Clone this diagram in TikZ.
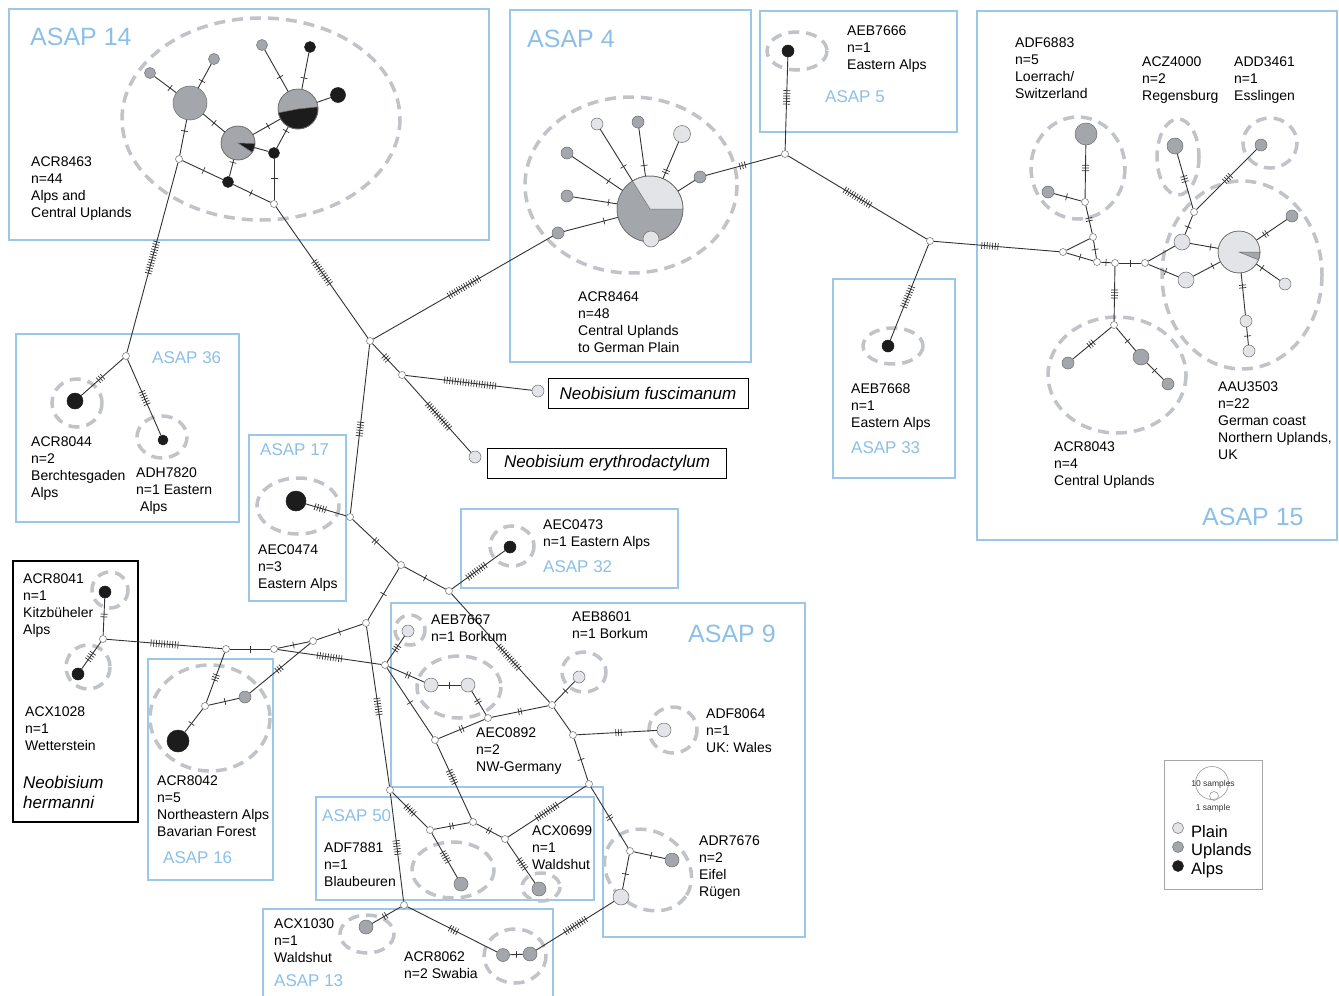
\documentclass[tikz,border=0pt]{standalone}
\usepackage{fontspec}
\setmainfont{Liberation Sans}
\usetikzlibrary{calc}
\definecolor{boxc}{RGB}{157,199,233}
\definecolor{asapc}{RGB}{140,192,232}
\definecolor{dashc}{RGB}{192,195,200}
\definecolor{plainc}{RGB}{226,228,231}
\definecolor{upc}{RGB}{163,167,172}
\definecolor{alpc}{RGB}{28,28,28}
\definecolor{edgec}{RGB}{50,50,50}
\tikzset{
  box/.style={draw=boxc, line width=1.8pt},
  grp/.style={draw=dashc, line width=3.5pt, dash pattern=on 11pt off 7pt},
  edge/.style={draw=edgec, line width=0.9pt},
  tick/.style={draw=edgec, line width=0.7pt},
  hapline/.style={draw=gray!85!black, line width=0.5pt},
  hap/.style={circle, inner sep=0pt, hapline},
  pl/.style={hap, fill=plainc, minimum size=#1},
  up/.style={hap, fill=upc, minimum size=#1},
  al/.style={hap, fill=alpc, draw=alpc, minimum size=#1},
  med/.style={circle, inner sep=0pt, minimum size=7pt, draw=gray, fill=white, line width=0.6pt},
  lbl/.style={font=\fontsize{14}{17}\selectfont, align=left, anchor=north west, inner sep=0pt},
  asapL/.style={font=\fontsize{25}{30}\selectfont, text=asapc, anchor=west, inner sep=0pt},
  asapS/.style={font=\fontsize{17}{20}\selectfont, text=asapc, anchor=west, inner sep=0pt},
  spec/.style={draw=black, line width=1pt, font=\itshape\fontsize{17}{20}\selectfont, inner sep=0pt},
}
\newcommand\edgeT[4][0.5]{%
  \draw[edge] (#2) -- (#3);
  \ifnum#4>0
    \path ($(#2)!#1!(#3)$) coordinate (tkm);
    \foreach \k in {1,...,#4}{%
      \pgfmathsetmacro\tkoff{(\k-(#4+1)/2)*2.7}%
      \path ($(tkm)!\tkoff pt!(#3)$) coordinate (tkk);
      \draw[tick] ($(tkk)!3.5pt!90:(#3)$) -- ($(tkk)!3.5pt!-90:(#3)$);
    }%
  \fi
}
\newcommand\pieW[6]{%
  \filldraw[fill=#6, hapline] (#1,#2) -- plot[domain=#4:#5, samples=40] ({#1+#3*cos(\x)},{#2+#3*sin(\x)}) -- cycle;
  \draw[hapline] (#1,#2) circle[radius=#3];
}
\begin{document}
\begin{tikzpicture}[x=1pt, y=-1pt]
\useasboundingbox (0,0) rectangle (1339,996);
\fill[white] (0,0) rectangle (1339,996);

% ---------- group boxes ----------
\draw[box] (9,9) rectangle (489,240);
\draw[box] (510,10) rectangle (751,362);
\draw[box] (760,11) rectangle (957,132);
\draw[box] (977,11) rectangle (1337,540);
\draw[box] (833,279) rectangle (955,478);
\draw[box] (16,334) rectangle (239,522);
\draw[box] (249,435) rectangle (346,601);
\draw[box] (461,509) rectangle (678,588);
\draw[box] (148,659) rectangle (273,880);
\draw[box] (391,603) -- (805,603) -- (805,937) -- (603,937) -- (603,787) -- (391,787) -- cycle;
\draw[box] (316,797) rectangle (594,900);
\draw[box] (263,909) rectangle (553,1004);
\draw[black, line width=1.8pt] (13,561) rectangle (138,822);

% ---------- dashed group ellipses ----------
\draw[grp] (261,119) ellipse [x radius=139, y radius=101];
\draw[grp] (631,185) ellipse [x radius=106, y radius=88];
\draw[grp] (797,51) ellipse [x radius=30, y radius=19];
\draw[grp] (893,346) ellipse [x radius=30, y radius=18];
\draw[grp] (1078,168) ellipse [x radius=47, y radius=51];
\draw[grp] (1178,157) ellipse [x radius=21, y radius=38];
\draw[grp] (1270,143) ellipse [x radius=27, y radius=25];
\draw[grp] (1242,275) ellipse [x radius=80, y radius=94];
\draw[grp] (1117,375) ellipse [x radius=69, y radius=58];
\draw[grp] (77,403) ellipse [x radius=25, y radius=24];
\draw[grp] (162,437) ellipse [x radius=25, y radius=21];
\draw[grp] (298,506) ellipse [x radius=41, y radius=28];
\draw[grp] (512,546) ellipse [x radius=22, y radius=20];
\draw[grp] (110,590) ellipse [x radius=18, y radius=18];
\draw[grp] (88,667) ellipse [x radius=22, y radius=22];
\draw[grp] (210,718) ellipse [x radius=60, y radius=53];
\draw[grp] (410,630) ellipse [x radius=15, y radius=15];
\draw[grp] (459,687) ellipse [x radius=42, y radius=31];
\draw[grp] (584,672) ellipse [x radius=22, y radius=20];
\draw[grp] (673,730) ellipse [x radius=24, y radius=23];
\draw[grp, rotate around={-35:(648,870)}] (648,870) ellipse [x radius=46, y radius=38];
\draw[grp] (453,870) ellipse [x radius=41, y radius=28];
\draw[grp] (541,887) ellipse [x radius=19, y radius=14];
\draw[grp] (367,934) ellipse [x radius=27, y radius=19];
\draw[grp] (515,956) ellipse [x radius=31, y radius=27];

% ---------- ASAP 14 ----------
\node[up=11] (h14a) at (150,73) {};
\node[up=11] (h14b) at (214,59) {};
\node[up=34] (h14c) at (190,103) {};
\node[up=11] (h14d) at (262,45) {};
\node[al=11] (h14e) at (310,47) {};
\node[up=40] (h14p) at (298,109) {};
\pieW{298}{109}{20}{-6}{169}{alpc}
\node[up=34] (h14q) at (238,143) {};
\pieW{238}{143}{17}{2}{33}{alpc}
\node[al=11] (h14f) at (274,153) {};
\node[al=11] (h14g) at (228,182) {};
\node[al=15] (h14h) at (338,95) {};
\node[med] (m14a) at (179,159) {};
\node[med] (m14b) at (274,204) {};

% ---------- ASAP 4 ----------
\node[up=66] (hp4) at (650,209) {};
\pieW{650}{209}{33}{-122}{0}{plainc}
\node[pl=12] (h4a) at (597,124) {};
\node[up=12] (h4b) at (638,122) {};
\node[pl=17] (h4c) at (682,134) {};
\node[up=12] (h4d) at (567,153) {};
\node[up=12] (h4e) at (567,196) {};
\node[up=12] (h4f) at (700,177) {};
\node[up=12] (h4g) at (558,233) {};
\node[pl=16] (h4h) at (651,239) {};

% ---------- ASAP 5 / 33 ----------
\node[al=12] (h5) at (788,51) {};
\node[med] (m5) at (785,154) {};
\node[med] (m33) at (930,241) {};
\node[al=12] (h33) at (888,346) {};

% ---------- ASAP 15 ----------
\node[med] (m15a) at (1063,252) {};
\node[med] (m15b) at (1093,237) {};
\node[med] (m15c) at (1097,262) {};
\node[med] (m15d) at (1085,202) {};
\node[med] (m15e) at (1115,263) {};
\node[med] (m15f) at (1145,263) {};
\node[med] (m15g) at (1194,212) {};
\node[med] (m15h) at (1114,325) {};
\node[up=22] (h15a) at (1086,134) {};
\node[up=12] (h15b) at (1048,192) {};
\node[pl=16] (h15c) at (1182,242) {};
\node[pl=16] (h15d) at (1186,280) {};
\node[up=16] (h15e) at (1175,146) {};
\node[up=12] (h15f) at (1261,145) {};
\node[pl=42] (hp15) at (1239,252) {};
\pieW{1239}{252}{21}{0}{22}{upc}
\node[up=12] (h15g) at (1292,216) {};
\node[pl=12] (h15h) at (1285,284) {};
\node[pl=12] (h15i) at (1246,321) {};
\node[pl=12] (h15j) at (1249,351) {};
\node[up=12] (h15k) at (1068,363) {};
\node[up=16] (h15l) at (1141,357) {};
\node[up=12] (h15m) at (1168,384) {};

% ---------- central and left ----------
\node[med] (mc) at (370,341) {};
\node[med] (mf) at (402,375) {};
\node[med] (mg) at (350,517) {};
\node[med] (mh) at (401,565) {};
\node[med] (mi) at (449,591) {};
\node[med] (mj) at (366,623) {};
\node[med] (mk) at (385,665) {};
\node[med] (ml) at (313,641) {};
\node[med] (mm) at (274,649) {};
\node[med] (mn) at (226,649) {};
\node[med] (mo) at (205,706) {};
\node[med] (mp) at (103,639) {};
\node[med] (m36) at (126,356) {};
\node[al=16] (hA8044) at (75,401) {};
\node[al=10] (hA7820) at (163,440) {};
\node[al=20] (hA0474) at (296,501) {};
\node[al=12] (hA0473) at (510,547) {};
\node[pl=12] (hFus) at (538,391) {};
\node[pl=12] (hEry) at (475,457) {};
\node[al=12] (hK) at (105,592) {};
\node[al=12] (hW) at (78,674) {};
\node[up=12] (h16a) at (245,697) {};
\node[al=22] (h16b) at (178,741) {};

% ---------- ASAP 9 / 50 / 13 ----------
\node[med] (m9a) at (488,718) {};
\node[med] (m9b) at (552,705) {};
\node[med] (m9c) at (573,735) {};
\node[med] (m9d) at (435,740) {};
\node[med] (m9e) at (589,784) {};
\node[med] (m9f) at (630,851) {};
\node[med] (m50a) at (390,790) {};
\node[med] (m50b) at (430,830) {};
\node[med] (m50c) at (473,822) {};
\node[med] (m50d) at (505,839) {};
\node[med] (m13) at (404,905) {};
\node[pl=12] (h9a) at (408,631) {};
\node[pl=14] (h9b) at (431,685) {};
\node[pl=14] (h9c) at (468,685) {};
\node[pl=12] (h9d) at (579,677) {};
\node[pl=14] (h9e) at (664,730) {};
\node[up=14] (h9f) at (672,860) {};
\node[pl=16] (h9g) at (621,897) {};
\node[up=14] (h50a) at (461,884) {};
\node[up=14] (h50b) at (539,889) {};
\node[up=14] (h13a) at (366,927) {};
\node[up=13] (h13b) at (503,955) {};
\node[up=14] (h13c) at (530,954) {};

% ---------- edges ----------
\edgeT{h14a}{h14c}{1}
\edgeT{h14b}{h14c}{1}
\edgeT{h14c}{h14q}{1}
\edgeT{h14d}{h14p}{1}
\edgeT{h14e}{h14p}{1}
\edgeT{h14h}{h14p}{0}
\edgeT{h14q}{h14p}{1}
\edgeT{h14q}{h14f}{0}
\edgeT{h14f}{h14p}{1}
\edgeT{h14q}{h14g}{1}
\edgeT{h14c}{m14a}{1}
\edgeT{m14a}{h14g}{1}
\edgeT{h14g}{m14b}{1}
\edgeT{h14f}{m14b}{1}
\edgeT{m14a}{m36}{13}
\edgeT{m14b}{mc}{11}
\edgeT{m36}{hA8044}{3}
\edgeT{m36}{hA7820}{6}
\edgeT{mc}{h4g}{14}
\edgeT{mc}{mf}{3}
\edgeT{mf}{hFus}{20}
\edgeT{mf}{hEry}{13}
\edgeT{mc}{mg}{6}
\edgeT[0.55]{mg}{hA0474}{5}
\edgeT{mg}{mh}{2}
\edgeT{mh}{mi}{1}
\edgeT{mh}{mj}{1}
\edgeT[0.45]{mi}{hA0473}{9}
\edgeT[0.58]{mi}{m9b}{12}
\edgeT{m9b}{h9d}{1}
\edgeT{m9a}{m9b}{2}
\edgeT{m9b}{m9c}{0}
\edgeT{m9c}{h9e}{3}
\edgeT{m9c}{m9e}{1}
\edgeT{m9e}{m9f}{2}
\edgeT{m9f}{h9f}{1}
\edgeT{m9f}{h9g}{1}
\edgeT{h9g}{h13c}{10}
\edgeT{h13c}{h13b}{1}
\edgeT{h13b}{m13}{4}
\edgeT{m13}{h13a}{2}
\edgeT{m13}{m50a}{6}
\edgeT{m50a}{mj}{7}
\edgeT{m50a}{m50b}{5}
\edgeT{m50b}{m50c}{2}
\edgeT{m50b}{h50a}{5}
\edgeT{m50c}{m50d}{2}
\edgeT[0.55]{m50c}{m9d}{6}
\edgeT{m50d}{h50b}{5}
\edgeT{m50d}{m9e}{10}
\edgeT{m9d}{m9a}{2}
\edgeT{m9d}{mk}{1}
\edgeT{mk}{h9b}{2}
\edgeT{mk}{h9a}{3}
\edgeT{mk}{mm}{10}
\edgeT{h9b}{h9c}{1}
\edgeT{h9c}{m9a}{2}
\edgeT{mm}{mn}{1}
\edgeT{mm}{ml}{1}
\edgeT{ml}{mj}{1}
\edgeT{ml}{h16a}{3}
\edgeT{mn}{mo}{3}
\edgeT{mo}{h16a}{1}
\edgeT{mo}{h16b}{1}
\edgeT{mn}{mp}{11}
\edgeT{mp}{hK}{2}
\edgeT{mp}{hW}{4}
% ASAP 4
\edgeT{h4a}{hp4}{1}
\edgeT{h4b}{hp4}{1}
\edgeT{h4c}{hp4}{2}
\edgeT{h4d}{hp4}{1}
\edgeT{h4e}{hp4}{1}
\edgeT{h4g}{hp4}{1}
\edgeT{h4f}{hp4}{0}
\edgeT{h4f}{m5}{3}
\edgeT[0.45]{h5}{m5}{6}
\edgeT{m5}{m33}{12}
\edgeT[0.53]{m33}{h33}{9}
\edgeT[0.45]{m33}{m15a}{7}
% ASAP 15
\edgeT{m15a}{m15b}{0}
\edgeT{m15a}{m15c}{1}
\edgeT{m15b}{m15c}{1}
\edgeT{m15b}{m15d}{2}
\edgeT{m15d}{h15a}{3}
\edgeT{m15d}{h15b}{1}
\edgeT{m15c}{m15e}{1}
\edgeT{m15e}{m15f}{1}
\edgeT{m15e}{m15h}{4}
\edgeT{m15f}{h15c}{0}
\edgeT{m15f}{h15d}{1}
\edgeT{h15c}{m15g}{1}
\edgeT{m15g}{h15e}{3}
\edgeT{m15g}{h15f}{4}
\edgeT{h15c}{hp15}{1}
\edgeT{h15d}{hp15}{1}
\edgeT{hp15}{h15g}{2}
\edgeT{hp15}{h15h}{1}
\edgeT{hp15}{h15i}{2}
\edgeT{h15i}{h15j}{1}
\edgeT{m15h}{h15k}{3}
\edgeT{m15h}{h15l}{1}
\edgeT{h15l}{h15m}{1}

% ---------- species boxes ----------
\node[spec, minimum width=200, minimum height=30] (tFus) at (648,393) {Neobisium fuscimanum};
\node[spec, minimum width=239, minimum height=30] (tEry) at (607,463) {Neobisium erythrodactylum};

% ---------- labels ----------
\node[asapL] (aL14) at (30,37) {ASAP 14};
\node[lbl] (t8463) at (31,157) {ACR8463\\n=44\\Alps and\\Central Uplands};
\node[asapL] (aL4) at (527,39) {ASAP 4};
\node[lbl] (t8464) at (578,292) {ACR8464\\n=48\\Central Uplands\\to German Plain};
\node[lbl] (t7666) at (847,26) {AEB7666\\n=1\\Eastern Alps};
\node[asapS] (aL5) at (825,97) {ASAP 5};
\node[lbl] (t6883) at (1015,38) {ADF6883\\n=5\\Loerrach/\\Switzerland};
\node[lbl] (t4000) at (1142,57) {ACZ4000\\n=2\\Regensburg};
\node[lbl] (t3461) at (1234,57) {ADD3461\\n=1\\Esslingen};
\node[lbl] (t3503) at (1218,382) {AAU3503\\n=22\\German coast\\Northern Uplands,\\UK};
\node[lbl] (t8043) at (1054,442) {ACR8043\\n=4\\Central Uplands};
\node[asapL] (aL15) at (1202,517) {ASAP 15};
\node[lbl] (t7668) at (851,384) {AEB7668\\n=1\\Eastern Alps};
\node[asapS] (aL33) at (851,448) {ASAP 33};
\node[asapS] (aL36) at (152,358) {ASAP 36};
\node[lbl] (t8044) at (31,437) {ACR8044\\n=2\\Berchtesgaden\\Alps};
\node[lbl] (t7820) at (136,468) {ADH7820\\n=1 Eastern\\\hspace{4pt}Alps};
\node[asapS] (aL17) at (260,450) {ASAP 17};
\node[lbl] (t0474) at (258,545) {AEC0474\\n=3\\Eastern Alps};
\node[lbl] (t0473) at (543,520) {AEC0473\\n=1 Eastern Alps};
\node[asapS] (aL32) at (543,567) {ASAP 32};
\node[lbl] (t8041) at (23,574) {ACR8041\\n=1\\Kitzbüheler\\Alps};
\node[lbl] (t1028) at (25,707) {ACX1028\\n=1\\Wetterstein};
\node[lbl, font=\itshape\fontsize{17}{20}\selectfont] (tHer) at (23,776) {Neobisium\\hermanni};
\node[lbl] (t8042) at (157,776) {ACR8042\\n=5\\Northeastern Alps\\Bavarian Forest};
\node[asapS] (aL16) at (163,858) {ASAP 16};
\node[asapL] (aL9) at (688,634) {ASAP 9};
\node[lbl] (t7667) at (431,615) {AEB7667\\n=1 Borkum};
\node[lbl] (t8601) at (572,612) {AEB8601\\n=1 Borkum};
\node[lbl] (t0892) at (476,728) {AEC0892\\n=2\\NW-Germany};
\node[lbl] (t8064) at (706,709) {ADF8064\\n=1\\UK: Wales};
\node[lbl] (t7676) at (699,836) {ADR7676\\n=2\\Eifel\\Rügen};
\node[asapS] (aL50) at (322,816) {ASAP 50};
\node[lbl] (t7881) at (324,843) {ADF7881\\n=1\\Blaubeuren};
\node[lbl] (t0699) at (532,826) {ACX0699\\n=1\\Waldshut};
\node[lbl] (t1030) at (274,919) {ACX1030\\n=1\\Waldshut};
\node[asapS] (aL13) at (274,981) {ASAP 13};
\node[lbl] (t8062) at (404,952) {ACR8062\\n=2 Swabia};

% ---------- legend ----------
\draw[draw=gray!70, line width=0.7pt] (1164,760) rectangle (1262,889);
\node[circle, draw=gray!80, line width=0.6pt, minimum size=33, inner sep=0pt] (lg10) at (1212,783) {};
\node[circle, draw=gray!80, line width=0.6pt, minimum size=9, inner sep=0pt] (lg1) at (1214,796) {};
\node[font=\fontsize{8.5}{10}\selectfont, inner sep=0pt, text=black!80] (lgt10) at (1213,784) {10 samples};
\node[font=\fontsize{8.5}{10}\selectfont, inner sep=0pt, text=black!80] (lgt1) at (1213,808) {1 sample};
\node[pl=11] (lgP) at (1178,828) {};
\node[up=11] (lgU) at (1178,847) {};
\node[al=11] (lgA) at (1178,866) {};
\node[font=\fontsize{16.5}{19}\selectfont, anchor=west, inner sep=0pt] (lgPt) at (1191,832) {Plain};
\node[font=\fontsize{16.5}{19}\selectfont, anchor=west, inner sep=0pt] (lgUt) at (1191,851) {Uplands};
\node[font=\fontsize{16.5}{19}\selectfont, anchor=west, inner sep=0pt] (lgAt) at (1191,870) {Alps};
\end{tikzpicture}
\end{document}
